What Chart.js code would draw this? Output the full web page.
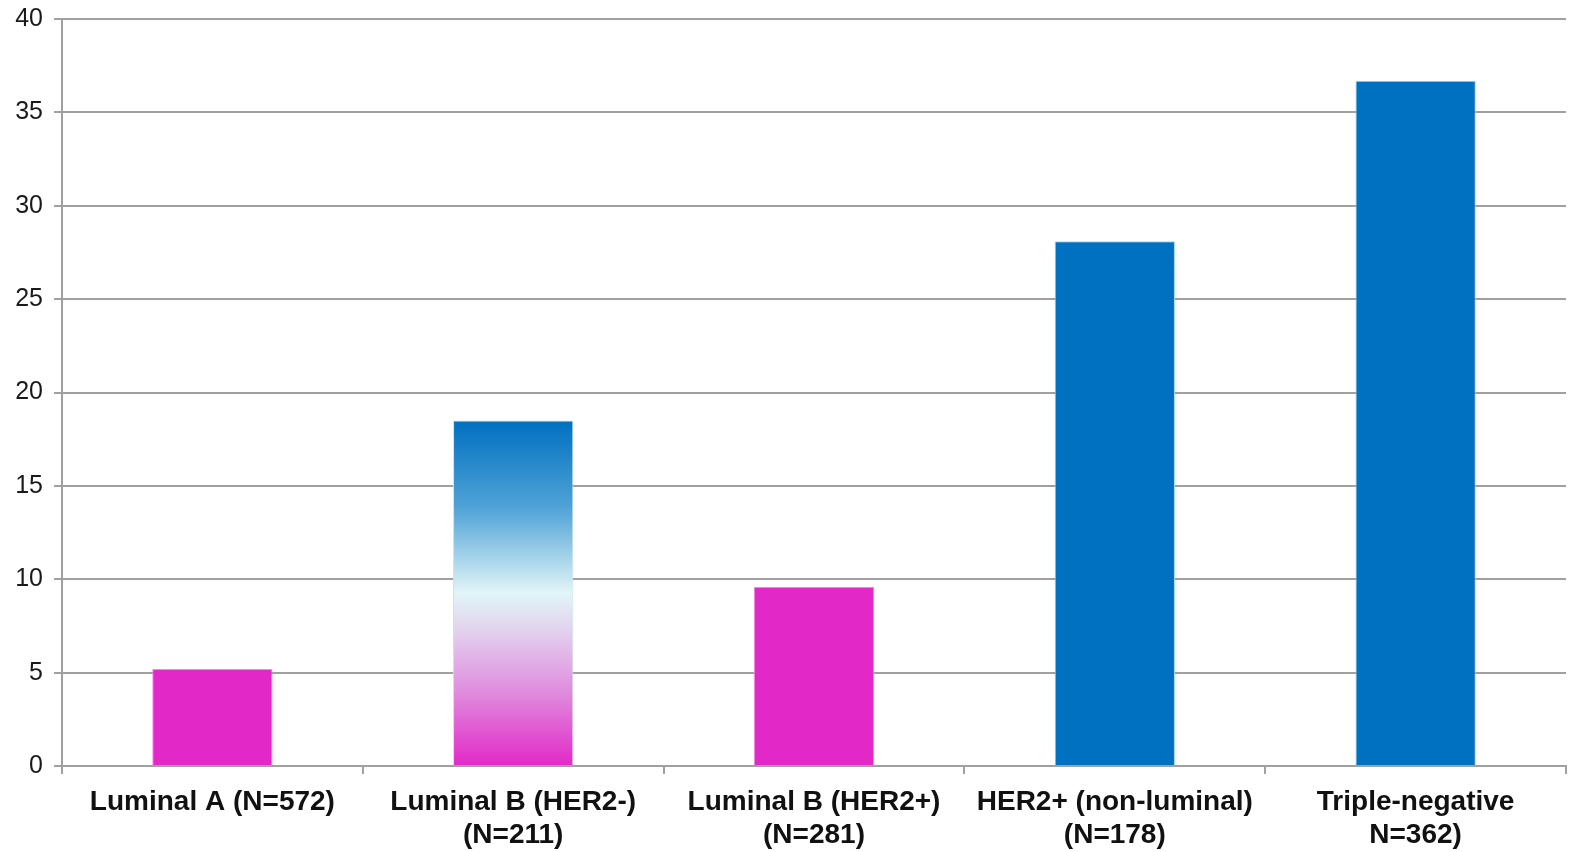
<!DOCTYPE html>
<html>
<head>
<meta charset="utf-8">
<script src="https://cdn.jsdelivr.net/npm/chart.js@4"></script>
<style>
  html, body { margin: 0; padding: 0; background: #fff; }
  #wrap { width: 1571px; height: 852px; }
</style>
</head>
<body>
<div id="wrap"><canvas id="myChart"></canvas></div>
<script>
const subtypes = [
  ["Luminal A (N=572)"],
  ["Luminal B (HER2-)", "(N=211)"],
  ["Luminal B (HER2+)", "(N=281)"],
  ["HER2+ (non-luminal)", "(N=178)"],
  ["Triple-negative", "N=362)"]
];
const percentages = [5.2, 18.5, 9.6, 28.1, 36.7];
const yTicks = [0, 5, 10, 15, 20, 25, 30, 35, 40];

const pink = '#e229c8';
const blue = '#0070c0';
// per bar: 'p' pink, 'b' blue, 'g' blue-to-pink gradient
const fills = ['p', 'g', 'p', 'b', 'b'];

function barFill(ctx) {
  const kind = fills[ctx.dataIndex];
  if (kind === 'p') return pink;
  if (kind === 'b') return blue;
  const y = ctx.chart.scales.y;
  if (!y) return blue;
  const top = y.getPixelForValue(percentages[ctx.dataIndex]);
  const bottom = y.getPixelForValue(0);
  const g = ctx.chart.ctx.createLinearGradient(0, top, 0, bottom);
  g.addColorStop(0, blue);
  g.addColorStop(0.25, '#4fa2d6');
  g.addColorStop(0.5, '#e2f5f7');
  g.addColorStop(0.6, '#e2d4ef');
  g.addColorStop(0.78, '#e08ede');
  g.addColorStop(1, pink);
  return g;
}

function barBorder(ctx) {
  const kind = fills[ctx.dataIndex];
  if (kind === 'p') return '#f08ae4';
  if (kind === 'b') return '#9fd6ee';
  return '#bfe3f3';
}

window.onload = function() {
  let chart = document.getElementById('myChart').getContext('2d');

  let myChart = new Chart(chart, {
    type: 'bar',
    data: {
      labels: subtypes,
      datasets: [
        {
          data: percentages,
          backgroundColor: barFill,
          borderColor: barBorder,
          borderWidth: 1,
          borderSkipped: 'bottom',
          barPercentage: 0.4,
          categoryPercentage: 1.0
        }
      ]
    },
    options: {
      responsive: true,
      maintainAspectRatio: false,
      animation: false,
      layout: { padding: { top: 19, right: 5, left: 0, bottom: 0 } },
      plugins: {
        legend: { display: false },
        tooltip: { enabled: false }
      },
      scales: {
        x: {
          offset: true,
          grid: {
            offset: true,
            drawOnChartArea: false,
            color: '#a0a0a0',
            lineWidth: 2,
            tickLength: 8
          },
          border: { color: '#a0a0a0', width: 2 },
          ticks: {
            color: '#111',
            padding: 12,
            maxRotation: 0,
            autoSkip: false,
            font: { family: 'Liberation Sans', size: 28, weight: 'bold', lineHeight: 1.18 }
          },
          afterFit: s => { s.height = 86; s.paddingLeft = 0; s.paddingRight = 0; }
        },
        y: {
          min: 0,
          max: 40,
          afterBuildTicks: s => { s.ticks = yTicks.map(v => ({ value: v })); },
          grid: { color: '#a0a0a0', lineWidth: 2, tickLength: 8 },
          border: { color: '#a0a0a0', width: 2 },
          ticks: {
            color: '#1a1a1a',
            padding: 11,
            font: { family: 'Liberation Sans', size: 25 }
          },
          afterFit: s => { s.width = 62; s.paddingTop = 0; s.paddingBottom = 0; }
        }
      }
    }
  });
};
</script>
</body>
</html>
